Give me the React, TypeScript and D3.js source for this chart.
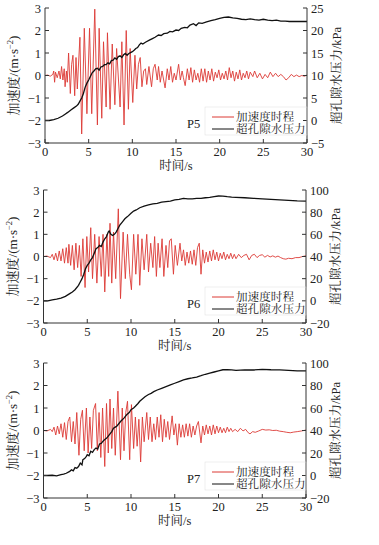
import React from "react";
import * as d3 from "d3";

const timeTicks = [0, 5, 10, 15, 20, 25, 30];
const accTicks = [-3, -2, -1, 0, 1, 2, 3];
const ppTicksP5 = [-5, 0, 5, 10, 15, 20, 25];
const ppTicksP67 = [-20, 0, 20, 40, 60, 80, 100];
const panelLabels = ["P5", "P6", "P7"];
const legendLabels = ["加速度时程", "超孔隙水压力"];

const accP5: [number, number][] = [
  [0,0],[0.3,0.02],[0.6,-0.03],[0.9,0.05],[1.0,0.2],[1.1,-0.3],[1.2,0.15],[1.4,-0.1],[1.6,0.2],[1.75,-0.15],[1.9,0.4],[2.05,-0.2],[2.2,0.3],[2.3,-0.5],[2.45,0.2],[2.55,-0.3],[2.7,1.0],[2.9,-0.8],[3.05,0.5],[3.2,0.9],[3.4,-0.9],[3.55,0.8],[3.7,-0.6],[3.85,0.6],[4.0,1.7],[4.2,-2.6],[4.5,2.1],[4.8,-1.7],[5.1,2.1],[5.35,-1.7],[5.7,2.95],[6.0,-2.2],[6.2,2.1],[6.5,-1.9],[6.7,1.5],[7.0,-1.4],[7.15,1.9],[7.45,-1.5],[7.7,1.4],[8.0,-1.3],[8.2,1.2],[8.6,-1.4],[8.8,1.5],[9.05,-2.2],[9.3,2.0],[9.55,-1.5],[9.75,1.2],[10.05,-1.2],[10.3,0.9],[10.5,-0.6],[10.7,0.5],[10.9,0.8],[11.1,-0.5],[11.3,0.2],[11.5,0.3],[11.65,-0.4],[11.9,0.4],[12.2,-0.5],[12.4,0.3],[12.6,0.5],[12.85,-0.2],[13.0,0.4],[13.2,-0.3],[13.4,0.2],[13.75,-0.55],[14.0,0.3],[14.2,-0.2],[14.4,0.4],[14.6,-0.3],[14.8,0.1],[15.0,-0.2],[15.3,0.5],[15.5,-0.2],[15.7,0.2],[15.85,-0.1],[16.05,-0.45],[16.3,0.3],[16.5,-0.2],[16.7,0.35],[16.9,-0.3],[17.1,0.25],[17.3,-0.2],[17.5,0.1],[17.7,-0.3],[17.9,0.3],[18.1,-0.25],[18.3,0.3],[18.5,-0.3],[18.7,0.2],[18.9,-0.2],[19.1,0.3],[19.3,-0.25],[19.5,0.15],[19.7,-0.1],[19.9,0.25],[20.1,-0.2],[20.3,0.1],[20.5,-0.15],[20.7,0.2],[20.9,-0.2],[21.1,0.35],[21.3,-0.1],[21.5,0.2],[21.7,-0.25],[21.9,0.15],[22.1,-0.15],[22.3,0.25],[22.5,-0.2],[22.7,0.1],[22.9,-0.1],[23.1,0.2],[23.3,-0.15],[23.5,0.15],[23.8,-0.05],[24.0,0.2],[24.3,-0.1],[24.6,0.1],[24.9,-0.15],[25.2,0.05],[25.5,-0.1],[25.8,0.15],[26.1,-0.05],[26.4,0.1],[26.7,-0.05],[27.0,0.05],[27.3,-0.05],[27.6,-0.2],[27.9,-0.1],[28.2,0.05],[28.5,-0.05],[28.8,0.02],[29.1,-0.05],[29.4,0.0],[29.7,-0.03],[30,0.02]
];

const ppP5: [number, number][] = [
  [0,0],[0.5,0],[1,0.2],[1.5,0.5],[2,1.0],[2.3,1.4],[2.6,1.8],[3,2.4],[3.3,2.8],[3.6,3.2],[3.8,3.6],[4.0,4.3],[4.2,5.0],[4.4,6.0],[4.6,7.4],[4.8,8.3],[5.0,9.0],[5.2,9.8],[5.4,10.6],[5.6,11.0],[5.8,11.5],[6.0,11.6],[6.2,11.2],[6.4,11.9],[6.6,12.0],[6.8,12.4],[7.0,12.4],[7.2,12.8],[7.4,12.6],[7.6,13.3],[7.8,13.4],[8.0,13.9],[8.2,13.6],[8.4,14.2],[8.6,14.4],[8.8,14.0],[9.0,14.6],[9.2,14.9],[9.4,14.5],[9.6,14.9],[9.8,15.1],[10.0,15.3],[10.2,15.6],[10.4,16.0],[10.6,16.2],[10.8,16.8],[11.0,17.2],[11.2,17.0],[11.5,17.4],[12.0,17.9],[12.3,18.2],[12.6,18.5],[13.0,19.0],[13.3,18.9],[13.6,19.3],[14.0,19.4],[14.3,19.8],[14.6,19.7],[15.0,20.1],[15.3,20.0],[15.6,20.5],[16.0,20.7],[16.3,20.6],[16.6,21.2],[17.0,21.5],[17.3,21.1],[17.6,21.7],[18.0,21.6],[18.5,21.9],[19.0,22.2],[19.5,22.4],[20.0,22.7],[20.5,22.9],[21.0,23.0],[21.5,22.8],[22.0,22.7],[22.5,22.5],[23.0,22.4],[23.5,22.6],[24.0,22.4],[24.5,22.3],[25.0,22.5],[25.5,22.3],[26.0,22.2],[26.5,22.3],[27.0,22.1],[27.5,22.1],[28.0,22.0],[29.0,22.0],[30,22.0]
];

const accP6: [number, number][] = [
  [0,0],[0.4,0.02],[0.8,-0.05],[1.0,0.1],[1.2,-0.15],[1.4,0.15],[1.6,-0.2],[1.8,0.25],[2.0,-0.2],[2.2,0.35],[2.4,-0.3],[2.6,0.4],[2.8,-0.3],[2.9,0.55],[3.1,-0.4],[3.3,0.5],[3.5,-0.6],[3.7,0.6],[3.9,-0.5],[4.1,0.5],[4.3,-0.9],[4.5,0.8],[4.75,-1.4],[4.95,0.9],[5.15,-0.7],[5.4,1.3],[5.6,-1.0],[5.85,1.0],[6.1,-1.2],[6.35,0.9],[6.6,-0.9],[6.8,1.0],[7.0,-1.6],[7.25,1.0],[7.45,-0.9],[7.6,1.5],[7.8,-1.2],[8.0,1.1],[8.25,-1.0],[8.55,2.15],[8.8,-1.9],[9.1,1.1],[9.35,-1.0],[9.6,1.0],[9.85,-0.8],[10.05,-1.5],[10.3,1.0],[10.55,-0.8],[10.8,1.0],[11.0,-1.3],[11.25,0.8],[11.5,-0.6],[11.8,1.0],[12.0,-0.7],[12.25,0.6],[12.5,-0.5],[12.7,0.9],[12.9,-0.9],[13.1,0.6],[13.3,-0.5],[13.55,0.8],[13.75,-0.9],[14.0,0.5],[14.2,-0.5],[14.4,0.7],[14.6,0.8],[14.85,-0.8],[15.05,0.5],[15.3,-0.4],[15.6,0.6],[15.8,-0.2],[16.0,0.3],[16.2,-0.4],[16.4,0.2],[16.6,-0.3],[16.8,0.25],[17.0,-0.35],[17.2,0.3],[17.4,-0.4],[17.6,0.4],[17.8,0.6],[18.0,-0.8],[18.2,0.3],[18.4,-0.3],[18.6,0.2],[18.8,-0.25],[19.0,0.25],[19.2,-0.2],[19.4,0.3],[19.6,-0.15],[19.8,0.2],[20.0,-0.2],[20.2,0.15],[20.4,-0.1],[20.6,0.2],[20.8,-0.15],[21.0,0.1],[21.2,-0.1],[21.4,0.15],[21.6,-0.1],[21.8,0.1],[22.0,-0.1],[22.3,0.1],[22.6,-0.05],[22.9,0.05],[23.2,0.1],[23.5,-0.15],[23.8,0.05],[24.1,0.1],[24.4,-0.05],[24.7,0.05],[25.0,0.08],[25.3,-0.03],[25.6,0.05],[25.9,-0.02],[26.2,0.03],[26.5,-0.03],[26.8,0.02],[27.1,-0.05],[27.4,-0.1],[27.7,-0.12],[28.0,-0.08],[28.4,-0.1],[28.8,-0.05],[29.2,-0.05],[29.6,0.0],[30,0.03]
];

const ppP6: [number, number][] = [
  [0,0],[0.5,0],[1,0.8],[1.5,1.5],[2,2.4],[2.5,4.0],[3,6.5],[3.3,8],[3.6,10],[4,14],[4.2,17],[4.4,20],[4.6,24],[4.8,29],[5.0,32],[5.2,34],[5.4,37],[5.6,39],[5.8,43],[6.0,47],[6.2,48],[6.4,50],[6.6,49],[6.8,53],[7.0,56],[7.2,58],[7.4,62],[7.5,63],[7.7,60],[7.9,59],[8.1,60],[8.3,62],[8.5,65],[8.7,68],[9.0,71],[9.3,74],[9.6,76],[10.0,79],[10.3,81],[10.6,82],[11.0,84],[11.5,85.5],[12.0,86.5],[12.5,87.5],[13.0,88],[13.5,89],[14.0,89.5],[14.5,90],[15.0,91],[15.5,91.5],[16.0,92.5],[16.5,92],[17.0,92],[17.5,92.5],[18.0,92.5],[18.5,93],[19.0,93.4],[19.5,94],[20.0,94.6],[20.5,94.5],[21.0,94],[21.5,93.6],[22.0,93.4],[23.0,93],[24.0,92.5],[25.0,92],[26.0,91.5],[27.0,91],[28.0,90.6],[29.0,90.2],[30,90]
];

const accP7: [number, number][] = [
  [0,0],[0.4,-0.02],[0.8,0.05],[1.0,-0.05],[1.2,0.15],[1.4,-0.2],[1.6,0.2],[1.8,-0.15],[2.0,0.3],[2.2,-0.3],[2.4,0.35],[2.6,-0.4],[2.8,0.4],[3.0,0.6],[3.2,-0.5],[3.4,0.4],[3.6,-0.6],[3.8,0.8],[4.05,-1.1],[4.25,0.5],[4.45,0.9],[4.65,-0.9],[4.9,1.0],[5.1,-1.0],[5.3,0.6],[5.5,-0.8],[5.7,0.9],[5.95,1.2],[6.15,-0.9],[6.35,0.8],[6.55,-1.2],[6.75,1.0],[7.0,-1.6],[7.2,1.2],[7.4,-1.0],[7.6,1.4],[7.8,-0.8],[8.0,1.0],[8.2,-1.1],[8.5,1.75],[8.8,-1.3],[9.0,1.0],[9.2,-0.9],[9.4,0.8],[9.6,1.3],[9.85,-1.3],[10.05,1.15],[10.3,-0.8],[10.5,0.6],[10.7,-0.7],[10.9,0.5],[11.1,-1.4],[11.3,0.6],[11.5,-0.5],[11.8,0.8],[12.0,-0.4],[12.2,0.6],[12.4,-0.5],[12.6,0.3],[12.8,-0.4],[13.0,0.6],[13.2,-0.3],[13.4,0.7],[13.6,-0.5],[13.8,0.5],[14.0,-0.3],[14.2,0.4],[14.4,-0.4],[14.7,0.65],[14.9,-0.2],[15.1,0.3],[15.3,-0.65],[15.5,0.3],[15.7,-0.3],[15.9,0.25],[16.1,-0.3],[16.3,0.3],[16.5,-0.25],[16.7,0.3],[16.9,-0.3],[17.1,0.2],[17.3,-0.2],[17.5,0.2],[17.7,0.4],[18.0,-0.55],[18.2,0.2],[18.4,-0.2],[18.6,0.25],[18.8,-0.15],[19.0,0.2],[19.2,-0.2],[19.4,0.25],[19.6,-0.15],[19.8,0.2],[20.0,-0.1],[20.2,0.15],[20.4,-0.1],[20.6,0.1],[20.8,-0.1],[21.0,0.15],[21.2,-0.05],[21.4,0.1],[21.6,-0.05],[21.9,0.05],[22.2,-0.05],[22.5,0.1],[22.8,-0.02],[23.1,0.05],[23.4,-0.1],[23.6,-0.15],[23.9,-0.05],[24.2,-0.08],[24.6,-0.02],[25.0,0.05],[25.4,0.02],[25.8,0.03],[26.2,0.0],[26.6,0.01],[27.0,-0.03],[27.4,-0.05],[27.8,-0.08],[28.2,-0.1],[28.6,-0.07],[29.0,-0.05],[29.5,-0.02],[30,0.02]
];

const ppP7: [number, number][] = [
  [0,0],[0.5,0],[1.0,0.2],[1.5,-0.3],[2.0,0.7],[2.3,1.2],[2.6,2.0],[3.0,3.7],[3.2,5.0],[3.4,4.2],[3.6,7.0],[3.8,6.5],[4.0,8.0],[4.2,11],[4.4,9.5],[4.5,14],[4.7,15],[4.9,17],[5.0,18.5],[5.2,17.5],[5.4,21.5],[5.6,20.5],[5.8,23],[6.0,24.4],[6.2,23.5],[6.4,28],[6.6,28.5],[6.8,30.5],[7.0,32],[7.2,33],[7.4,35],[7.6,37],[7.8,39],[8.0,42],[8.2,43],[8.4,44],[8.6,46],[8.8,48],[9.0,49.6],[9.2,51],[9.5,54],[9.8,56],[10.0,58.5],[10.3,60],[10.5,61.5],[10.8,64],[11.0,66],[11.3,68],[11.6,70],[12.0,72],[12.3,73],[12.6,74.5],[13.0,76],[13.5,77.5],[14.0,79],[14.5,80.5],[15.0,82],[15.5,83.5],[16.0,85],[16.5,86],[17.0,86.7],[17.5,87.5],[18.0,88.7],[18.5,90],[19.0,91],[19.5,92],[20.0,93],[20.5,94],[21.0,94],[21.5,93.8],[22.0,93.5],[23.0,93.8],[24.0,93.8],[25.0,94.4],[26.0,94],[27.0,93.8],[28.0,93.5],[29.0,93],[30,93]
];

const SERIF = "'Liberation Serif', 'Times New Roman', 'Noto Serif CJK SC', 'Noto Sans CJK SC', serif";
const RED = "#dc3a35";
const AXIS = "#333";

type PanelProps = {
  left: number; right: number; top: number; bottom: number;
  acc: [number, number][]; pp: [number, number][];
  ppTicks: number[]; label: string;
};

function fmt(v: number) {
  return v < 0 ? "\u2212" + Math.abs(v) : String(v);
}

function Panel({ left, right, top, bottom, acc, pp, ppTicks, label }: PanelProps) {
  const x = d3.scaleLinear().domain([0, 30]).range([left, right]);
  const yA = d3.scaleLinear().domain([-3, 3]).range([bottom, top]);
  const yP = d3.scaleLinear().domain([ppTicks[0], ppTicks[ppTicks.length - 1]]).range([bottom, top]);
  const accLine = d3.line<[number, number]>().x(d => x(d[0])).y(d => yA(d[1]));
  const ppLine = d3.line<[number, number]>().x(d => x(d[0])).y(d => yP(d[1]));
  const midY = (top + bottom) / 2;
  const legY1 = bottom - 26;
  const legY2 = bottom - 14;
  return (
    <g>
      <path d={accLine(acc) || ""} fill="none" stroke={RED} strokeWidth={0.9} />
      <path d={ppLine(pp) || ""} fill="none" stroke="#111" strokeWidth={1.3} />
      <line x1={left} x2={left} y1={top} y2={bottom} stroke={AXIS} strokeWidth={1} />
      <line x1={right} x2={right} y1={top} y2={bottom} stroke={AXIS} strokeWidth={1} />
      <line x1={left} x2={right} y1={bottom} y2={bottom} stroke={AXIS} strokeWidth={1} />
      {accTicks.map(t => (
        <g key={"a" + t}>
          <line x1={left} x2={left + 4} y1={yA(t)} y2={yA(t)} stroke={AXIS} />
          <text x={left - 4} y={yA(t) + 4.5} textAnchor="end" fontSize={12.5} fontFamily={SERIF} fill="#222">{fmt(t)}</text>
        </g>
      ))}
      {ppTicks.map(t => (
        <g key={"p" + t}>
          <line x1={right - 4} x2={right} y1={yP(t)} y2={yP(t)} stroke={AXIS} />
          <text x={right + 4} y={yP(t) + 4.5} textAnchor="start" fontSize={12.5} fontFamily={SERIF} fill="#222">{fmt(t)}</text>
        </g>
      ))}
      {timeTicks.map(t => (
        <g key={"t" + t}>
          <line x1={x(t)} x2={x(t)} y1={bottom} y2={bottom - 4} stroke={AXIS} />
          <text x={x(t)} y={bottom + 13} textAnchor="middle" fontSize={12.5} fontFamily={SERIF} fill="#222">{t}</text>
        </g>
      ))}
      <text x={(left + right) / 2} y={bottom + 27} textAnchor="middle" fontSize={12.5} fontFamily={SERIF} fill="#222">时间/s</text>
      <text transform={`translate(${left - 27},${midY}) rotate(-90)`} textAnchor="middle" fontSize={13} fontFamily={SERIF} fill="#222">
        加速度/(m·s<tspan dy={-5} fontSize={8.5}>−2</tspan><tspan dy={5}>)</tspan>
      </text>
      <text transform={`translate(${right + 34},${midY}) rotate(-90)`} textAnchor="middle" fontSize={12.5} fontFamily={SERIF} fill="#222">超孔隙水压力/kPa</text>
      <rect x={205} y={bottom - 36} width={right - 205} height={28} fill="none" stroke="#ddd" strokeWidth={0.5} />
      <text x={187} y={(legY1 + legY2) / 2 + 4.5} fontSize={12.5} fontFamily={SERIF} fill="#222">{label}</text>
      <line x1={212} x2={234} y1={legY1} y2={legY1} stroke={RED} strokeWidth={1} />
      <line x1={212} x2={234} y1={legY2} y2={legY2} stroke="#111" strokeWidth={1} />
      <text x={236} y={legY1 + 4.2} fontSize={11.6} fontFamily={SERIF} fill="#222">{legendLabels[0]}</text>
      <text x={236} y={legY2 + 4.2} fontSize={11.6} fontFamily={SERIF} fill="#222">{legendLabels[1]}</text>
    </g>
  );
}

export default function App() {
  return (
    <svg width={379} height={545} style={{ position: "absolute", left: 0, top: 0, background: "#fff" }}>
      <rect x={0} y={0} width={379} height={545} fill="#fff" />
      <Panel left={45} right={307} top={8} bottom={143} acc={accP5} pp={ppP5} ppTicks={ppTicksP5} label={panelLabels[0]} />
      <Panel left={43.5} right={306} top={190} bottom={323} acc={accP6} pp={ppP6} ppTicks={ppTicksP67} label={panelLabels[1]} />
      <Panel left={43.5} right={306} top={363} bottom={498} acc={accP7} pp={ppP7} ppTicks={ppTicksP67} label={panelLabels[2]} />
    </svg>
  );
}
